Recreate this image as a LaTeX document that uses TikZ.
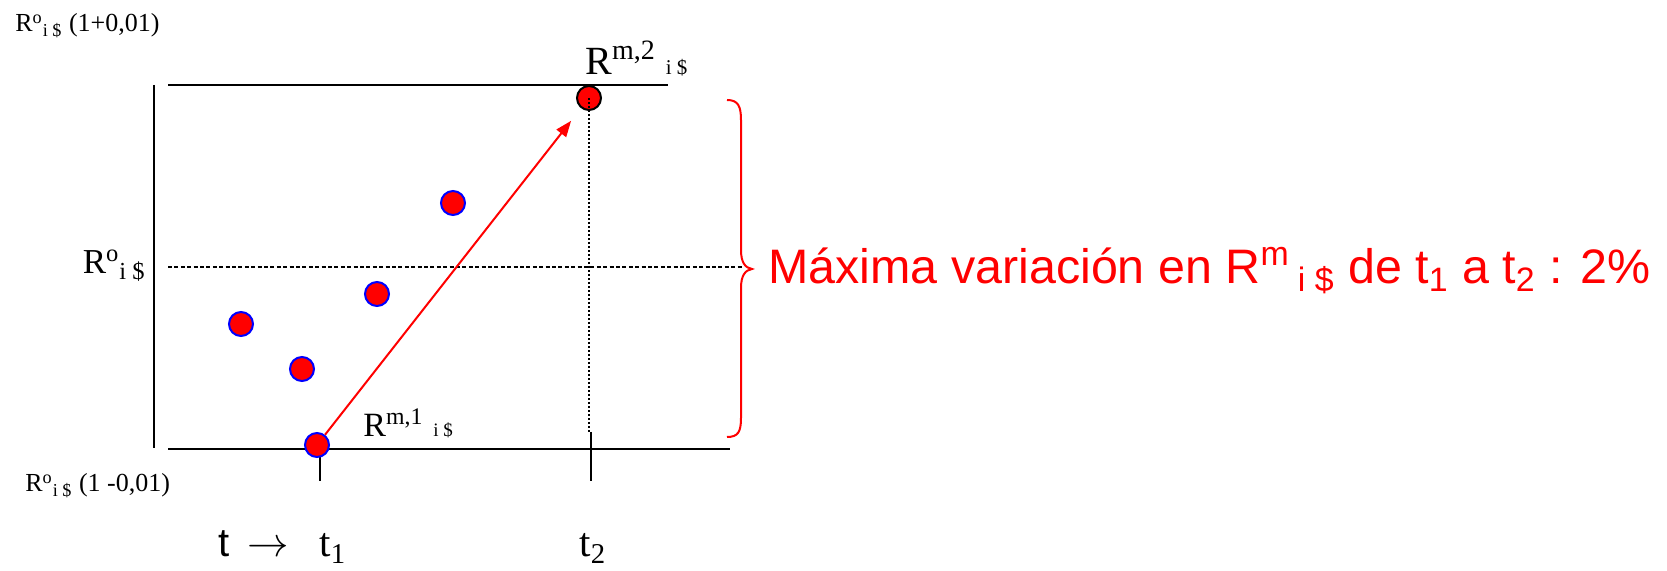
\documentclass[tikz,border=0pt]{standalone}
\usepackage{fontspec}
\setmainfont{Liberation Serif}
\newfontfamily\arialfont{Liberation Sans}
\usetikzlibrary{arrows.meta}

\begin{document}
\begin{tikzpicture}[x=0.5pt, y=-0.5pt,
  dot/.style={circle, fill=red, draw=blue, line width=1pt, inner sep=0pt, minimum size=12pt},
  axisline/.style={line width=1pt, black},
  lbl/.style={anchor=base west, inner sep=0pt}]
% page frame in pixels of the original slide
\useasboundingbox (0,0) rectangle (1667,571);
\def\subsz{\fontsize{10.5}{12}\selectfont}
% Frame lines
\draw[axisline] (154,85) -- (154,448);
\draw[axisline] (168,85) -- (668,85);
\draw[axisline] (168,449) -- (730,449);
% Ticks under t1 and t2
\draw[axisline] (320,449) -- (320,481);
\draw[axisline] (591,432) -- (591,481);
% Mid level
\draw[black, line width=0.7pt, dash pattern=on 2pt off 1.2pt] (168,267) -- (743,267);
% Observations
\node[dot] (p1) at (317,445) {};
\node[dot] (pa) at (241,324) {};
\node[dot] (pb) at (302,369) {};
\node[dot] (pc) at (377,294) {};
\node[dot] (pd) at (453,203) {};
\node[dot, draw=black] (p2) at (589,98) {};
\draw[black, line width=0.8pt, dash pattern=on 1pt off 1pt] (p2.center) -- (p2.center |- 0,432);
% Jump from t1 to t2
\draw[red, line width=1pt, -{Triangle[length=8pt,width=6pt]}, shorten >=8pt] (p1) -- (p2);
% Brace
\draw[red, line width=1pt] (727,100) .. controls (738,100) and (741,106) .. (741,120) -- (741,250)
  .. controls (741,262) and (745,268) .. (752,269) .. controls (745,270) and (741,276) .. (741,288)
  -- (741,418) .. controls (741,432) and (738,437) .. (727,437);
% Labels
\node[lbl, font=\fontsize{13}{16}\selectfont] (rtop) at (15,32) {R\textsuperscript{o}\textsubscript{i \$} (1+0,01)};
\node[anchor=base east, inner sep=0pt, font=\fontsize{17.5}{20}\selectfont] (rmid) at (146,274) {R\textsuperscript{o}\textsubscript{i \$}};
\node[lbl, font=\fontsize{13}{16}\selectfont] (rbot) at (25,492) {R\textsuperscript{o}\textsubscript{i \$} (1 -0,01)};
\node[lbl, font=\fontsize{20}{24}\selectfont] (rmtwo) at (585,75) {R\textsuperscript{m,2}\hspace{5pt}{\subsz i \$}};
\node[lbl, font=\fontsize{17}{20}\selectfont] (rmone) at (363,437) {R\textsuperscript{m,1}\hspace{5pt}{\fontsize{9.5}{11}\selectfont i \$}};
\node[lbl, font=\arialfont\fontsize{20}{24}\selectfont] (tvar) at (218,557) {t};
\node[lbl, font=\fontsize{20}{24}\selectfont] (tarrow) at (247,557) {$\rightarrow$};
\node[lbl, font=\fontsize{20.5}{24}\selectfont] (tone) at (319,557) {t\textsubscript{1}};
\node[lbl, font=\fontsize{20.5}{24}\selectfont] (ttwo) at (579,557) {t\textsubscript{2}};
\node[lbl, text=red, font=\arialfont\fontsize{24.2}{28}\selectfont] (note) at (768,284)
  {Máxima variación en R\textsuperscript{m}\hspace{4pt}\textsubscript{i \$} de t\textsubscript{1} a t\textsubscript{2} : 2\%};
\end{tikzpicture}
\end{document}
